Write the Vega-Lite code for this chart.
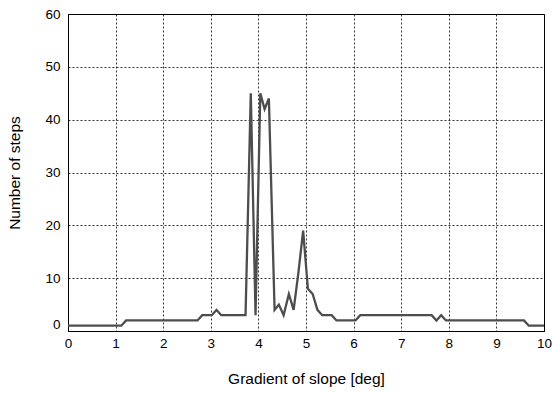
{
  "$schema": "https://vega.github.io/schema/vega-lite/v6.json",
  "width": 476,
  "height": 317,
  "autosize": {"type": "none"},
  "padding": {"left": 68, "top": 14, "right": 8, "bottom": 62},
  "background": "white",
  "config": {
    "font": "Liberation Sans",
    "view": {"stroke": "black", "strokeWidth": 1},
    "axis": {
      "domainColor": "black",
      "domainWidth": 1,
      "gridColor": "black",
      "gridDash": [2, 2],
      "gridOpacity": 1,
      "gridWidth": 0.8,
      "ticks": false,
      "labelColor": "black",
      "labelFontSize": 13.5,
      "titleColor": "black",
      "titleFontSize": 15.5,
      "titleFontWeight": "normal"
    }
  },
  "data": {
    "values": [
      {"x": 0, "y": 1},
      {"x": 1.12, "y": 1},
      {"x": 1.22, "y": 2},
      {"x": 2.72, "y": 2},
      {"x": 2.82, "y": 3},
      {"x": 3.02, "y": 3},
      {"x": 3.12, "y": 4},
      {"x": 3.22, "y": 3},
      {"x": 3.73, "y": 3},
      {"x": 3.84, "y": 45},
      {"x": 3.94, "y": 3},
      {"x": 4.04, "y": 45},
      {"x": 4.13, "y": 42},
      {"x": 4.22, "y": 44},
      {"x": 4.34, "y": 4},
      {"x": 4.43, "y": 5},
      {"x": 4.53, "y": 3},
      {"x": 4.64, "y": 7},
      {"x": 4.74, "y": 4},
      {"x": 4.84, "y": 11},
      {"x": 4.94, "y": 19},
      {"x": 5.04, "y": 8},
      {"x": 5.14, "y": 7},
      {"x": 5.24, "y": 4},
      {"x": 5.34, "y": 3},
      {"x": 5.54, "y": 3},
      {"x": 5.64, "y": 2},
      {"x": 6.04, "y": 2},
      {"x": 6.14, "y": 3},
      {"x": 7.64, "y": 3},
      {"x": 7.74, "y": 2},
      {"x": 7.84, "y": 3},
      {"x": 7.94, "y": 2},
      {"x": 9.58, "y": 2},
      {"x": 9.68, "y": 1},
      {"x": 10, "y": 1}
    ]
  },
  "mark": {"type": "line", "color": "#4d4d4d", "strokeWidth": 2.3, "clip": true},
  "encoding": {
    "x": {
      "field": "x",
      "type": "quantitative",
      "scale": {"domain": [0, 10], "nice": false},
      "axis": {
        "title": "Gradient of slope [deg]",
        "values": [0, 1, 2, 3, 4, 5, 6, 7, 8, 9, 10],
        "format": "d",
        "labelPadding": 5,
        "titlePadding": 22,
        "labelFlush": false
      }
    },
    "y": {
      "field": "y",
      "type": "quantitative",
      "scale": {"domain": [0, 60], "nice": false, "zero": false},
      "axis": {
        "title": "Number of steps",
        "values": [0, 10, 20, 30, 40, 50, 60],
        "labelPadding": 8,
        "titlePadding": 22,
        "labelFlush": false,
        "labelBaseline": {"condition": {"test": "datum.value == 0", "value": "bottom"}, "value": "middle"}
      }
    }
  }
}
